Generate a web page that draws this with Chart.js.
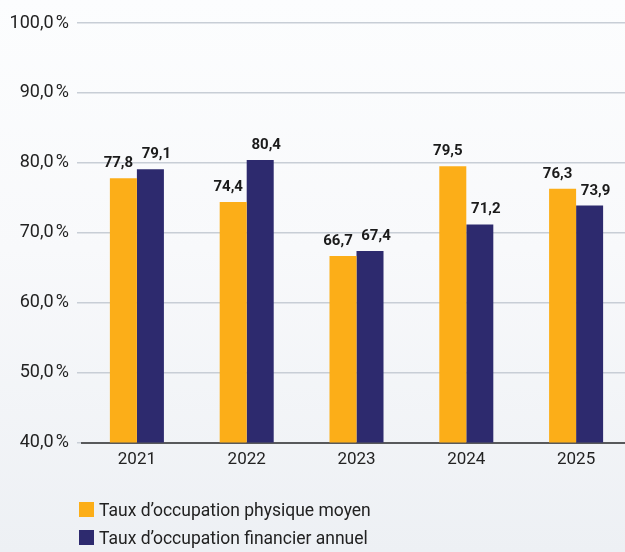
<!DOCTYPE html>
<html>
<head>
<meta charset="utf-8">
<script src="https://cdn.jsdelivr.net/npm/chart.js@4/dist/chart.umd.min.js"></script>
<style>
  html, body { margin: 0; padding: 0; }
  body {
    width: 625px; height: 552px; overflow: hidden; position: relative;
    background: linear-gradient(180deg, #fcfdfe 0%, #f8f9fb 45%, #edf0f4 100%);
    font-family: Roboto, "Noto Sans", sans-serif;
  }
  #wrap { position: absolute; left: 0; top: 0; width: 625px; height: 552px; overflow: hidden; }
  #legend { position: absolute; left: 79px; top: 502px; }
  .item { display: flex; align-items: center; height: 15px; margin-bottom: 13px; font-size: 17.5px; color: #222; }
  .box { width: 15px; height: 15px; margin-right: 5px; }
</style>
</head>
<body>
<div id="wrap"><canvas id="graphic" width="632" height="552"></canvas></div>
<div id="legend"></div>
<script>
let years = ["2021", "2022", "2023", "2024", "2025"]
let physique = [77.8, 74.4, 66.7, 79.5, 76.3]
let financier = [79.1, 80.4, 67.4, 71.2, 73.9]
let seriesNames = ["Taux d\u2019occupation physique moyen", "Taux d\u2019occupation financier annuel"]

let orange = "#fcae18"
let navy = "#2d2a6e"

function fr(v) {
    return v.toFixed(1).replace(".", ",")
}

// valeurs au-dessus des barres
const valueLabels = {
    id: "valueLabels",
    afterDatasetsDraw(chart) {
        const ctx = chart.ctx
        ctx.save()
        ctx.font = "bold 15px Roboto"
        ctx.fillStyle = "#1b1b1b"
        ctx.textAlign = "center"
        ctx.textBaseline = "alphabetic"
        chart.data.datasets.forEach((ds, i) => {
            const meta = chart.getDatasetMeta(i)
            const shift = i == 0 ? -5 : 6
            meta.data.forEach((bar, j) => {
                ctx.fillText(fr(ds.data[j]), bar.x + shift, bar.y - 11)
            })
        })
        ctx.restore()
    },
}

const chartID = document.getElementById("graphic").getContext("2d")
let graphic = new Chart(chartID, {
    type: "bar",
    data: {
        labels: years,
        datasets: [
            {
                label: seriesNames[0],
                data: physique,
                backgroundColor: orange,
                categoryPercentage: 0.492,
                barPercentage: 1,
            },
            {
                label: seriesNames[1],
                data: financier,
                backgroundColor: navy,
                categoryPercentage: 0.492,
                barPercentage: 1,
            },
        ],
    },
    options: {
        responsive: false,
        animation: false,
        layout: {
            padding: { top: 23, right: 1, bottom: 75, left: 0 },
        },
        plugins: {
            legend: { display: false },
            tooltip: { enabled: false },
        },
        scales: {
            x: {
                grid: { display: false, drawTicks: false },
                border: { color: "#58595b", width: 2 },
                ticks: {
                    padding: 7,
                    color: "#222",
                    font: { family: "Roboto", size: 17 },
                },
            },
            y: {
                min: 40,
                max: 100,
                afterFit(scale) {
                    scale.width = 82
                },
                grid: { color: "#c8ced6", lineWidth: 1.5, tickLength: 5 },
                border: { display: false },
                ticks: {
                    stepSize: 10,
                    padding: 8,
                    color: "#222",
                    font: { family: "Roboto", size: 18 },
                    callback: (v) => fr(v) + "\u202f%",
                },
            },
        },
    },
    plugins: [valueLabels],
})

let legend = document.getElementById("legend")
graphic.data.datasets.forEach((ds) => {
    legend.innerHTML += `<div class="item"><span class="box" style="background:${ds.backgroundColor}"></span>${ds.label}</div>`
})
</script>
</body>
</html>
